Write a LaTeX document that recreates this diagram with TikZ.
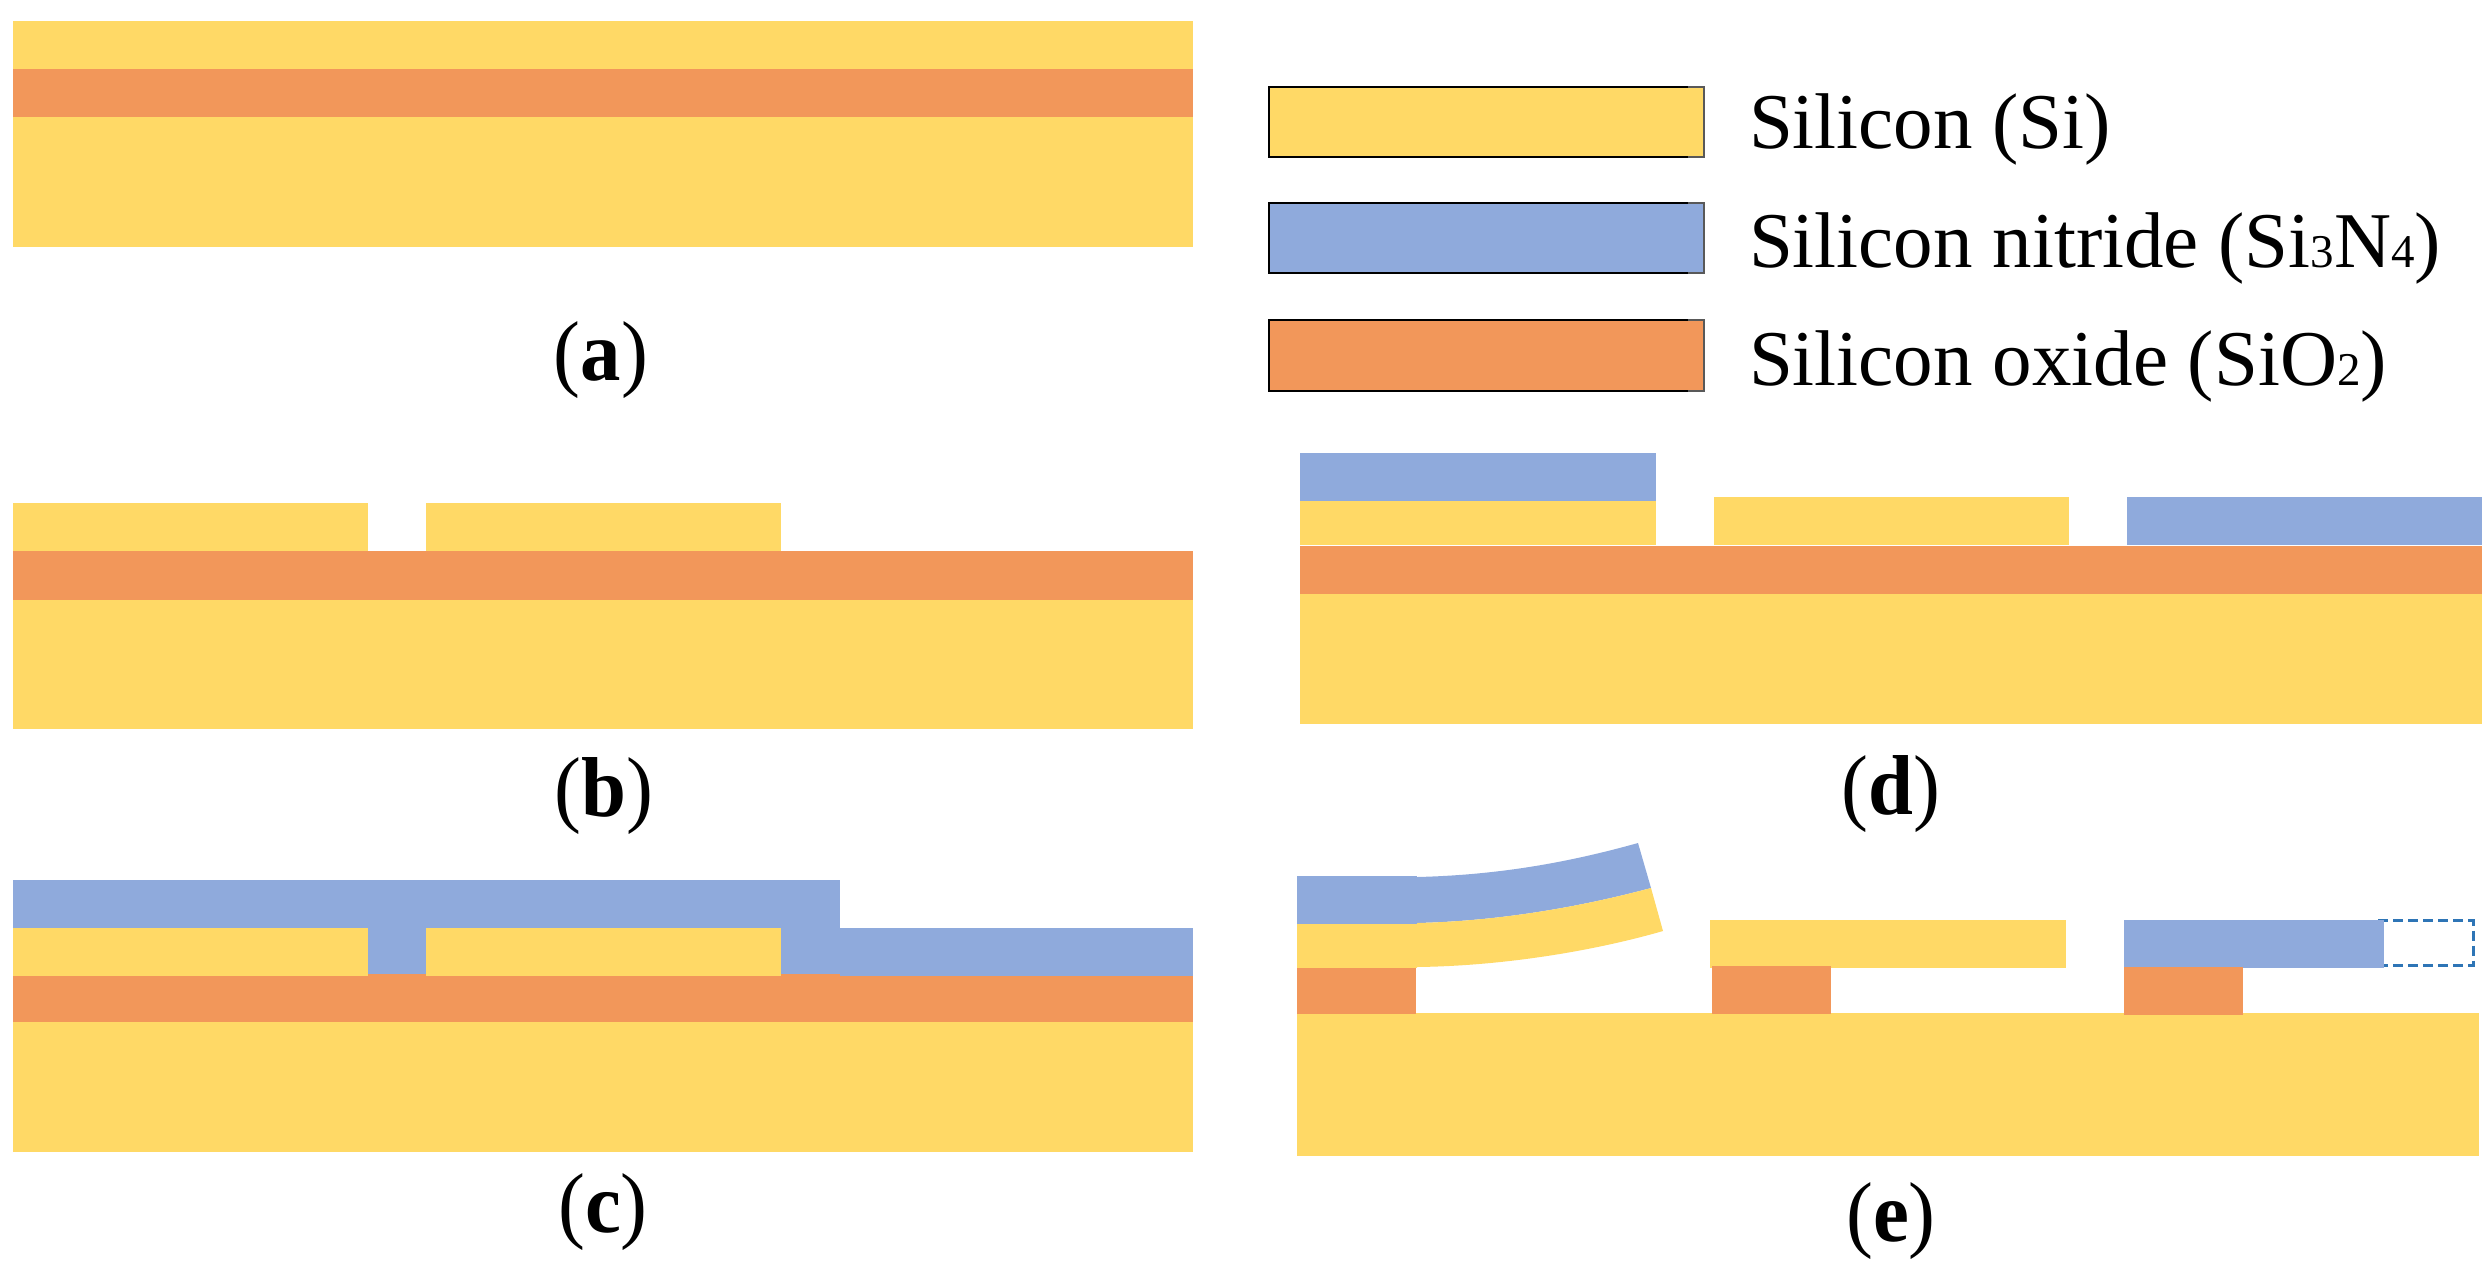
\documentclass[tikz,border=0pt]{standalone}
\usepackage{fontspec}
\usepackage{graphicx}
\setmainfont{Liberation Serif}
\definecolor{siy}{HTML}{FFD966}
\definecolor{nib}{HTML}{8FAADC}
\definecolor{oxo}{HTML}{F2975A}
\definecolor{dashb}{HTML}{2E75B6}
\newcommand{\layerbox}[5]{\fill[#1] (#2,#3) rectangle (#4,#5);}
\newcommand{\legbox}[3]{%
  \fill[#1] (1268,#2) rectangle (1704,#3);
  \draw[stub] (1688,#2) -- (1704,#2) -- (1704,#3) -- (1688,#3);
  \draw[legline] (1688,#2) -- (1269,#2) -- (1269,#3) -- (1688,#3);}
\newcommand{\subs}[1]{{\fontsize{47}{47}\selectfont #1}}
\tikzset{
  legtext/.style={anchor=base west,inner sep=0pt,outer sep=0pt,font=\fontsize{79}{79}\selectfont},
  captext/.style={anchor=base,inner sep=0pt,outer sep=0pt,font=\fontsize{85}{85}\selectfont},
  legline/.style={draw=black,line width=2.4pt},
  stub/.style={draw=black!65,line width=1.5pt},
  dashbox/.style={draw=dashb,line width=3pt,dash pattern=on 10pt off 5pt}
}
\newcommand{\capt}[1]{\scalebox{.95}[1]{(\textbf{#1})}}
\begin{document}
\begin{tikzpicture}[x=1pt,y=-1pt]
\useasboundingbox (0,0) rectangle (2492,1275);
% (a)
\layerbox{siy}{13}{21}{1193}{69}
\layerbox{oxo}{13}{69}{1193}{117}
\layerbox{siy}{13}{117}{1193}{247}
% (b)
\layerbox{siy}{13}{503}{368}{551}
\layerbox{siy}{426}{503}{781}{551}
\layerbox{oxo}{13}{551}{1193}{600}
\layerbox{siy}{13}{600}{1193}{729}
% (c)
\layerbox{nib}{13}{880}{840}{928}
\layerbox{siy}{13}{928}{368}{976}
\layerbox{nib}{368}{928}{426}{974}
\layerbox{siy}{426}{928}{781}{976}
\layerbox{nib}{781}{928}{840}{974}
\layerbox{nib}{840}{928}{1193}{976}
\layerbox{oxo}{13}{976}{1193}{1022}
\layerbox{oxo}{368}{974}{426}{976}
\layerbox{oxo}{781}{974}{840}{976}
\layerbox{siy}{13}{1022}{1193}{1152}
% (d)
\layerbox{nib}{1300}{453}{1656}{501}
\layerbox{siy}{1300}{501}{1656}{545}
\layerbox{siy}{1713.5}{497}{2069}{545}
\layerbox{nib}{2127}{497}{2482}{545}
\layerbox{oxo}{1300}{546}{2482}{594}
\layerbox{siy}{1300}{594}{2482}{724}
% (e)
\layerbox{siy}{1297}{1013}{2479}{1156}
\layerbox{nib}{1297}{876}{1416.6}{924}
\layerbox{siy}{1297}{924}{1416.6}{968}
\layerbox{oxo}{1297}{968}{1416}{1014}
\fill[nib] (1417,877) .. controls (1500,875) and (1570,862) .. (1638,843)
  -- (1651,888) .. controls (1580,907) and (1500,921) .. (1417,923) -- cycle;
\fill[siy] (1417,923) .. controls (1500,921) and (1580,907) .. (1651,888)
  -- (1663,931) .. controls (1590,952) and (1500,966) .. (1417,967) -- cycle;
\layerbox{siy}{1710}{920}{2066}{968}
\layerbox{oxo}{1712}{966}{1831}{1014}
\draw[dashbox] (2378,920.5) -- (2473,920.5) -- (2473,965.5) -- (2378,965.5);
\layerbox{nib}{2124}{920}{2384}{968}
\layerbox{oxo}{2124}{967}{2243}{1015}
% legend
\legbox{siy}{87}{157}
\legbox{nib}{203}{273}
\legbox{oxo}{320}{391}
\node[legtext] (legsi) at (1749,148) {Silicon (Si)};
\node[legtext] (legni) at (1749,267) {Silicon nitride (Si\subs{3}N\subs{4})};
\node[legtext] (legox) at (1749,385) {Silicon oxide (SiO\subs{2})};
% captions
\node[captext] (capa) at (601,380) {\capt{a}};
\node[captext] (capb) at (604,816) {\capt{b}};
\node[captext] (capc) at (603,1232) {\capt{c}};
\node[captext] (capd) at (1891,814) {\capt{d}};
\node[captext] (cape) at (1891,1241) {\capt{e}};
\end{tikzpicture}
\end{document}
